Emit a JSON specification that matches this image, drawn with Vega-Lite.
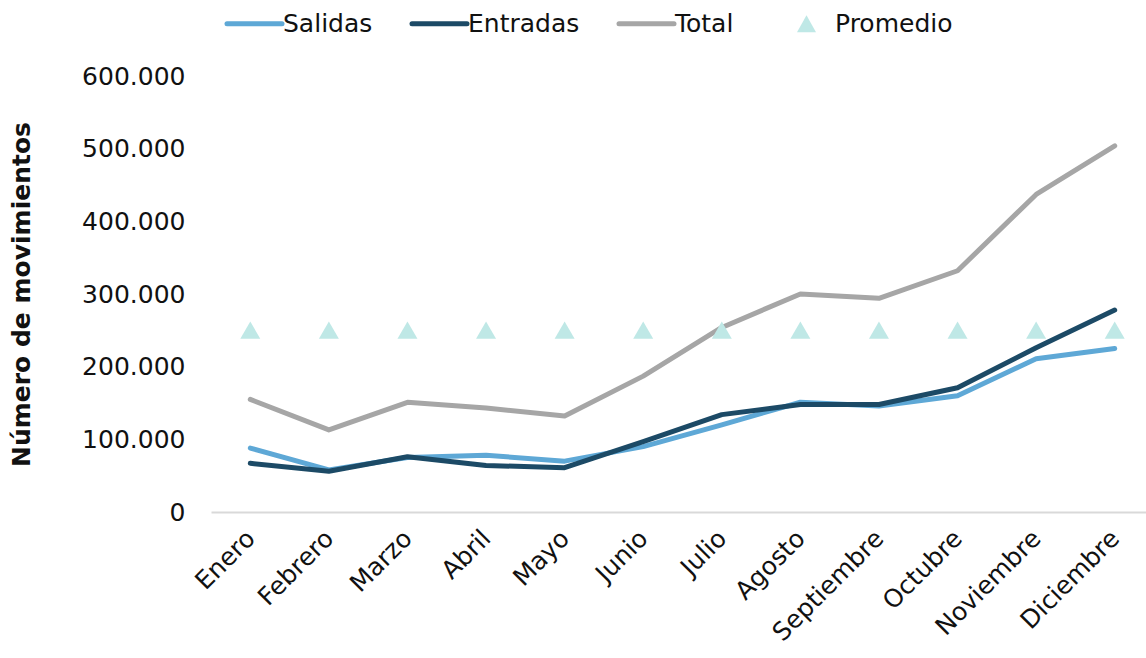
{
  "$schema": "https://vega.github.io/schema/vega-lite/v6.json",
  "width": 935,
  "height": 436,
  "autosize": {"type": "none"},
  "padding": {"left": 211, "top": 76, "right": 0, "bottom": 146},
  "background": "white",
  "config": {
    "view": {"stroke": null},
    "font": "DejaVu Sans",
    "axis": {"labelFont": "DejaVu Sans", "labelColor": "#111111", "labelFontSize": 25, "titleFont": "DejaVu Sans"},
    "legend": {"labelFont": "DejaVu Sans", "labelFontSize": 25, "labelColor": "#111111"}
  },
  "data": {
    "values": [
      {"mes": "Enero", "serie": "Salidas", "valor": 88000},
      {"mes": "Febrero", "serie": "Salidas", "valor": 58000},
      {"mes": "Marzo", "serie": "Salidas", "valor": 75000},
      {"mes": "Abril", "serie": "Salidas", "valor": 78000},
      {"mes": "Mayo", "serie": "Salidas", "valor": 70000},
      {"mes": "Junio", "serie": "Salidas", "valor": 90000},
      {"mes": "Julio", "serie": "Salidas", "valor": 120000},
      {"mes": "Agosto", "serie": "Salidas", "valor": 151000},
      {"mes": "Septiembre", "serie": "Salidas", "valor": 146000},
      {"mes": "Octubre", "serie": "Salidas", "valor": 160000},
      {"mes": "Noviembre", "serie": "Salidas", "valor": 211000},
      {"mes": "Diciembre", "serie": "Salidas", "valor": 225000},
      {"mes": "Enero", "serie": "Entradas", "valor": 67000},
      {"mes": "Febrero", "serie": "Entradas", "valor": 56000},
      {"mes": "Marzo", "serie": "Entradas", "valor": 76000},
      {"mes": "Abril", "serie": "Entradas", "valor": 64000},
      {"mes": "Mayo", "serie": "Entradas", "valor": 61000},
      {"mes": "Junio", "serie": "Entradas", "valor": 97000},
      {"mes": "Julio", "serie": "Entradas", "valor": 134000},
      {"mes": "Agosto", "serie": "Entradas", "valor": 148000},
      {"mes": "Septiembre", "serie": "Entradas", "valor": 148000},
      {"mes": "Octubre", "serie": "Entradas", "valor": 171000},
      {"mes": "Noviembre", "serie": "Entradas", "valor": 226000},
      {"mes": "Diciembre", "serie": "Entradas", "valor": 278000},
      {"mes": "Enero", "serie": "Total", "valor": 155000},
      {"mes": "Febrero", "serie": "Total", "valor": 113000},
      {"mes": "Marzo", "serie": "Total", "valor": 151000},
      {"mes": "Abril", "serie": "Total", "valor": 143000},
      {"mes": "Mayo", "serie": "Total", "valor": 132000},
      {"mes": "Junio", "serie": "Total", "valor": 187000},
      {"mes": "Julio", "serie": "Total", "valor": 254000},
      {"mes": "Agosto", "serie": "Total", "valor": 300000},
      {"mes": "Septiembre", "serie": "Total", "valor": 294000},
      {"mes": "Octubre", "serie": "Total", "valor": 332000},
      {"mes": "Noviembre", "serie": "Total", "valor": 437000},
      {"mes": "Diciembre", "serie": "Total", "valor": 504000},
      {"mes": "Enero", "serie": "Promedio", "valor": 250300},
      {"mes": "Febrero", "serie": "Promedio", "valor": 250300},
      {"mes": "Marzo", "serie": "Promedio", "valor": 250300},
      {"mes": "Abril", "serie": "Promedio", "valor": 250300},
      {"mes": "Mayo", "serie": "Promedio", "valor": 250300},
      {"mes": "Junio", "serie": "Promedio", "valor": 250300},
      {"mes": "Julio", "serie": "Promedio", "valor": 250300},
      {"mes": "Agosto", "serie": "Promedio", "valor": 250300},
      {"mes": "Septiembre", "serie": "Promedio", "valor": 250300},
      {"mes": "Octubre", "serie": "Promedio", "valor": 250300},
      {"mes": "Noviembre", "serie": "Promedio", "valor": 250300},
      {"mes": "Diciembre", "serie": "Promedio", "valor": 250300}
    ]
  },
  "encoding": {
    "x": {
      "field": "mes",
      "type": "ordinal",
      "sort": ["Enero", "Febrero", "Marzo", "Abril", "Mayo", "Junio", "Julio", "Agosto", "Septiembre", "Octubre", "Noviembre", "Diciembre"],
      "scale": {"type": "point", "padding": 0.5, "range": [0, 943]},
      "axis": {
        "title": null,
        "labelAngle": -45,
        "labelAlign": "right",
        "labelBaseline": "middle",
        "labelPadding": 22,
        "ticks": false,
        "domainColor": "#d9d9d9",
        "domainWidth": 2,
        "grid": false
      }
    },
    "y": {
      "field": "valor",
      "type": "quantitative",
      "scale": {"domain": [0, 600000], "nice": false},
      "axis": {
        "title": "Número de movimientos",
        "titleFontSize": 25,
        "titleFontWeight": "bold",
        "titleColor": "#111111",
        "titlePadding": 47,
        "values": [0, 100000, 200000, 300000, 400000, 500000, 600000],
        "labelExpr": "replace(format(datum.value, ','), /,/g, '.')",
        "labelPadding": 26,
        "ticks": false,
        "domain": false,
        "grid": false
      }
    },
    "color": {
      "field": "serie",
      "type": "nominal",
      "scale": {
        "domain": ["Salidas", "Entradas", "Total", "Promedio"],
        "range": ["#5ea8d6", "#1c4a66", "#a6a6a6", "#bfe8e6"]
      },
      "legend": {
        "title": null,
        "orient": "none",
        "legendX": 31,
        "legendY": -65,
        "direction": "horizontal",
        "symbolType": "stroke",
        "symbolSize": 3025,
        "symbolStrokeWidth": 5,
        "labelOffset": 16,
        "columnPadding": 29,
        "encode": {
          "symbols": {
            "update": {
              "shape": {"signal": "datum.value === 'Promedio' ? 'M-1.55,0M0,-0.31L0.345,0.31L-0.345,0.31ZM1,0' : 'stroke'"},
              "strokeWidth": {"signal": "datum.value === 'Promedio' ? 0 : 5"},
              "strokeCap": {"value": "round"},
              "fill": {"signal": "scale('color', datum.value)"},
              "fillOpacity": {"value": 1},
              "stroke": {"signal": "scale('color', datum.value)"}
            }
          }
        }
      }
    }
  },
  "layer": [
    {
      "transform": [{"filter": "datum.serie !== 'Promedio'"}],
      "mark": {"type": "line", "strokeWidth": 5, "strokeCap": "round", "strokeJoin": "round"}
    },
    {
      "transform": [{"filter": "datum.serie === 'Promedio'"}],
      "mark": {"type": "point", "shape": "triangle-up", "filled": true, "size": 400, "opacity": 1}
    }
  ]
}
